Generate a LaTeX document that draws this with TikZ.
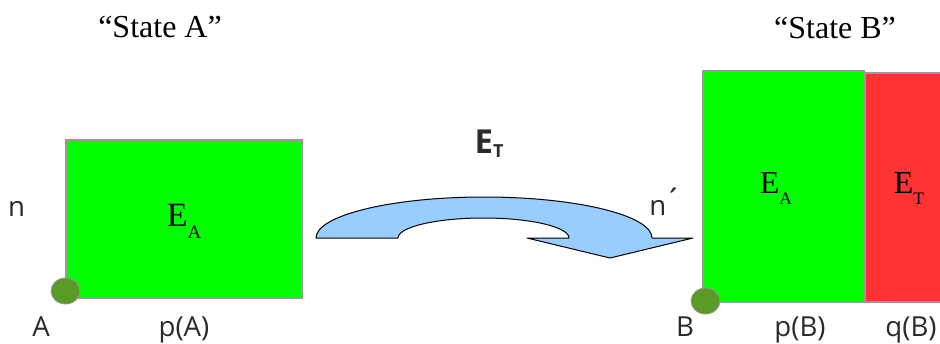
\documentclass[tikz,border=0pt]{standalone}
\usepackage{fontspec}
\setmainfont{Liberation Serif}
\newfontfamily\labelfont{Open Sans}
\usetikzlibrary{shapes.geometric,positioning}
\definecolor{boxgreen}{HTML}{00FF00}
\definecolor{boxred}{HTML}{FF3333}
\definecolor{dotgreen}{HTML}{5A9A26}
\definecolor{arrowblue}{HTML}{99CCFF}
\definecolor{labelgray}{HTML}{2A2A2A}
\definecolor{edgegray}{HTML}{999999}
\newcommand{\lowsub}[2][8.5]{\raisebox{-0.37em}{\fontsize{#1}{#1}\selectfont #2}}

\begin{document}
\begin{tikzpicture}[x=0.5pt, y=-0.5pt]
    \tikzset{statebox/.style={rectangle, draw=edgegray, line width=0.6pt, inner sep=0pt}}
    \tikzset{corner/.style={ellipse, draw=edgegray, fill=dotgreen, line width=0.4pt, minimum width=14.5pt, minimum height=13pt, inner sep=0pt}}
    \tikzset{sanslabel/.style={font=\labelfont\fontsize{13.8}{16}\selectfont, text=labelgray, anchor=base, inner sep=0pt}}
    \tikzset{title/.style={font=\fontsize{16}{19}\selectfont, anchor=base, inner sep=0pt}}
    \tikzset{energy/.style={anchor=base, inner sep=0pt}}
    \tikzset{flowarrow/.style={fill=arrowblue, draw=black, line width=0.5pt, line join=round}}

    \useasboundingbox (0,0) rectangle (940,343);

    % State A
    \node[title] (titleA) at (160,37) {“State A”};
    \node[statebox, fill=boxgreen, minimum width=118pt, minimum height=79pt] (boxA) at (184,219) {};
    \node[energy, font=\fontsize{17}{20}\selectfont] (eA) at (184,226) {E\lowsub[9.5]{A}};
    \node[corner] (dotA) at (65.5,291) {};
    \node[sanslabel] (nA) at (16.5,216) {n};
    \node[sanslabel] (ptA) at (41,336) {A};
    \node[sanslabel] (pA) at (184,336) {p(A)};

    % State B
    \node[title] (titleB) at (835,38) {“State B”};
    \node[statebox, fill=boxgreen, minimum width=80.5pt, minimum height=115.5pt] (boxB) at (783.5,186.5) {};
    \node[statebox, fill=boxred, minimum width=38pt, minimum height=114.5pt, anchor=south west] (boxT) at (boxB.south east) {};
    \node[energy, font=\fontsize{16}{19}\selectfont] (eAB) at (776,193) {E\lowsub[8.8]{A}};
    \node[energy, font=\fontsize{16}{19}\selectfont] (eTB) at (909,193) {E\lowsub[8.8]{T}};
    \node[corner] (dotB) at (705.5,301) {};
    \node[sanslabel] (nB) at (666,215) {n\kern-1pt\raisebox{1.5pt}{\fontsize{16}{16}\selectfont ´}};
    \node[sanslabel] (ptB) at (685,336) {B};
    \node[sanslabel] (pB) at (800,336) {p(B)};
    \node[sanslabel] (qB) at (911,336) {q(B)};

    % Transfer
    \node[energy, font=\labelfont\bfseries\fontsize{16.5}{19}\selectfont, text=labelgray] (eT) at (489,153) {E\raisebox{-2pt}{\fontsize{9}{9}\selectfont T}};
    \draw[flowarrow] (316,238) .. controls (316,215.4) and (391.3,197) .. (484,197)
        .. controls (576.7,197) and (652,215.4) .. (652,238) -- (693,238) -- (610,258) -- (527,238) -- (569,238)
        .. controls (569,227) and (530.7,218) .. (483.5,218)
        .. controls (436.3,218) and (398,227) .. (398,238) -- cycle;
\end{tikzpicture}
\end{document}
